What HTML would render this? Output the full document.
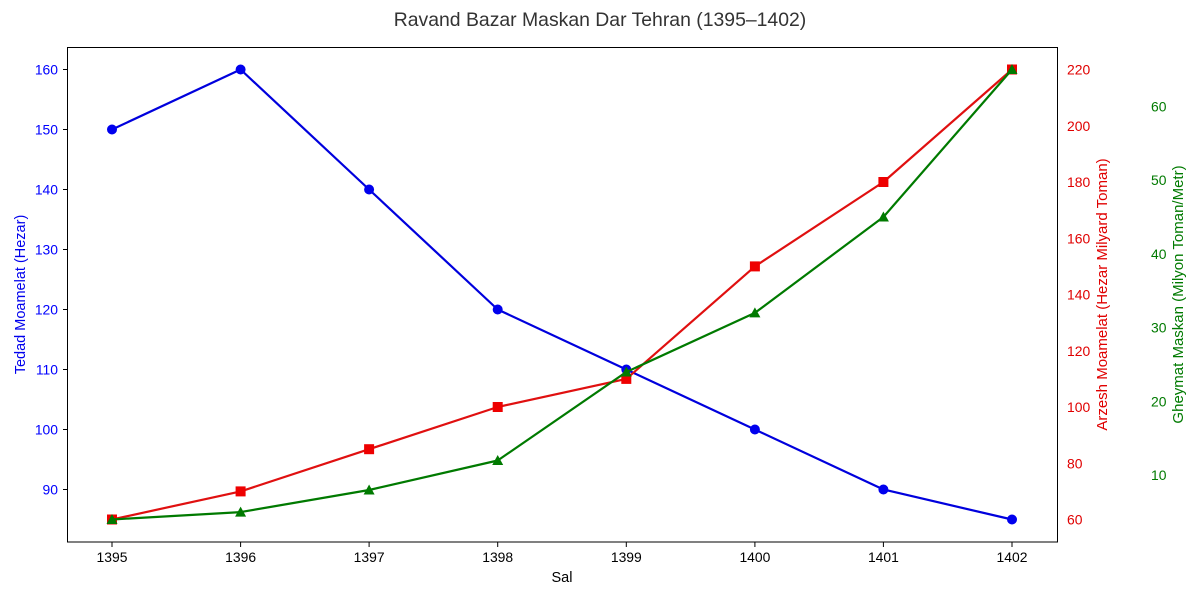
<!DOCTYPE html>
<html>
<head>
<meta charset="utf-8">
<style>
html,body{margin:0;padding:0;background:#fff;}
svg{display:block;}
text{font-family:"Liberation Sans","DejaVu Sans",sans-serif;}
</style>
</head>
<body>
<svg width="1200" height="600" viewBox="0 0 1200 600" xmlns="http://www.w3.org/2000/svg">
<rect width="1200" height="600" fill="#fff"/>

<!-- Title -->
<text x="600" y="26" font-size="19.4" fill="#333" text-anchor="middle">Ravand Bazar Maskan Dar Tehran (1395–1402)</text>

<!-- Axes frame -->
<rect x="67.5" y="47.5" width="990" height="494.5" fill="none" stroke="#000" stroke-width="1"/>

<!-- Left ticks -->
<g stroke="#000" stroke-width="1">
<line x1="63" y1="69.5" x2="67.5" y2="69.5"/>
<line x1="63" y1="129.5" x2="67.5" y2="129.5"/>
<line x1="63" y1="189.5" x2="67.5" y2="189.5"/>
<line x1="63" y1="249.5" x2="67.5" y2="249.5"/>
<line x1="63" y1="309.5" x2="67.5" y2="309.5"/>
<line x1="63" y1="369.5" x2="67.5" y2="369.5"/>
<line x1="63" y1="429.5" x2="67.5" y2="429.5"/>
<line x1="63" y1="489.5" x2="67.5" y2="489.5"/>
</g>
<g font-size="13.9" fill="#0000ff" text-anchor="end">
<text x="58" y="74.5">160</text>
<text x="58" y="134.5">150</text>
<text x="58" y="194.5">140</text>
<text x="58" y="254.5">130</text>
<text x="58" y="314.5">120</text>
<text x="58" y="374.5">110</text>
<text x="58" y="434.5">100</text>
<text x="58" y="494.5">90</text>
</g>

<!-- Bottom ticks -->
<g stroke="#000" stroke-width="1">
<line x1="112" y1="542" x2="112" y2="547"/>
<line x1="240.6" y1="542" x2="240.6" y2="547"/>
<line x1="369.1" y1="542" x2="369.1" y2="547"/>
<line x1="497.7" y1="542" x2="497.7" y2="547"/>
<line x1="626.3" y1="542" x2="626.3" y2="547"/>
<line x1="754.9" y1="542" x2="754.9" y2="547"/>
<line x1="883.4" y1="542" x2="883.4" y2="547"/>
<line x1="1012" y1="542" x2="1012" y2="547"/>
</g>
<g font-size="13.9" fill="#000" text-anchor="middle">
<text x="112" y="562">1395</text>
<text x="240.6" y="562">1396</text>
<text x="369.1" y="562">1397</text>
<text x="497.7" y="562">1398</text>
<text x="626.3" y="562">1399</text>
<text x="754.9" y="562">1400</text>
<text x="883.4" y="562">1401</text>
<text x="1012" y="562">1402</text>
</g>
<text x="562" y="582" font-size="14.5" fill="#000" text-anchor="middle">Sal</text>

<!-- Red axis labels -->
<g font-size="13.9" fill="#e00000" text-anchor="start">
<text x="1067" y="524.5">60</text>
<text x="1067" y="468.3">80</text>
<text x="1067" y="412">100</text>
<text x="1067" y="355.8">120</text>
<text x="1067" y="299.5">140</text>
<text x="1067" y="243.3">160</text>
<text x="1067" y="187">180</text>
<text x="1067" y="130.8">200</text>
<text x="1067" y="74.5">220</text>
</g>

<!-- Green axis labels -->
<g font-size="13.9" fill="#007a00" text-anchor="start">
<text x="1151" y="480.2">10</text>
<text x="1151" y="406.5">20</text>
<text x="1151" y="332.7">30</text>
<text x="1151" y="258.9">40</text>
<text x="1151" y="185.2">50</text>
<text x="1151" y="111.4">60</text>
</g>

<!-- Y labels -->
<text transform="translate(25,294.5) rotate(-90)" font-size="14.5" fill="#0000ee" text-anchor="middle">Tedad Moamelat (Hezar)</text>
<text transform="translate(1107,294.5) rotate(-90)" font-size="15" fill="#e00000" text-anchor="middle">Arzesh Moamelat (Hezar Milyard Toman)</text>
<text transform="translate(1183,294.5) rotate(-90)" font-size="15" fill="#007a00" text-anchor="middle">Gheymat Maskan (Milyon Toman/Metr)</text>

<!-- Blue series -->
<polyline fill="none" stroke="#0000dd" stroke-width="2.2" stroke-linejoin="round"
points="112,129.5 240.6,69.5 369.1,189.5 497.7,309.5 626.3,369.5 754.9,429.5 883.4,489.5 1012,519.5"/>
<g fill="#0000ee">
<circle cx="112" cy="129.5" r="5"/>
<circle cx="240.6" cy="69.5" r="5"/>
<circle cx="369.1" cy="189.5" r="5"/>
<circle cx="497.7" cy="309.5" r="5"/>
<circle cx="626.3" cy="369.5" r="5"/>
<circle cx="754.9" cy="429.5" r="5"/>
<circle cx="883.4" cy="489.5" r="5"/>
<circle cx="1012" cy="519.5" r="5"/>
</g>

<!-- Red series -->
<polyline fill="none" stroke="#e01010" stroke-width="2.2" stroke-linejoin="round"
points="112,519.5 240.6,491.4 369.1,449.2 497.7,407 626.3,378.9 754.9,266.4 883.4,182 1012,69.5"/>
<g fill="#ee0000">
<rect x="107" y="514.5" width="10" height="10"/>
<rect x="235.6" y="486.4" width="10" height="10"/>
<rect x="364.1" y="444.2" width="10" height="10"/>
<rect x="492.7" y="402" width="10" height="10"/>
<rect x="621.3" y="373.9" width="10" height="10"/>
<rect x="749.9" y="261.4" width="10" height="10"/>
<rect x="878.4" y="177" width="10" height="10"/>
<rect x="1007" y="64.5" width="10" height="10"/>
</g>

<!-- Green series -->
<polyline fill="none" stroke="#007a00" stroke-width="2.2" stroke-linejoin="round"
points="112,519.5 240.6,512.1 369.1,490 497.7,460.5 626.3,372 754.9,312.9 883.4,217 1012,69.5"/>
<g fill="#007a00">
<polygon points="112,514 117.5,524 106.5,524"/>
<polygon points="240.6,506.6 246.1,516.6 235.1,516.6"/>
<polygon points="369.1,484.5 374.6,494.5 363.6,494.5"/>
<polygon points="497.7,455 503.2,465 492.2,465"/>
<polygon points="626.3,366.5 631.8,376.5 620.8,376.5"/>
<polygon points="754.9,307.4 760.4,317.4 749.4,317.4"/>
<polygon points="883.4,211.5 888.9,221.5 877.9,221.5"/>
<polygon points="1012,64 1017.5,74 1006.5,74"/>
</g>
</svg>
</body>
</html>
